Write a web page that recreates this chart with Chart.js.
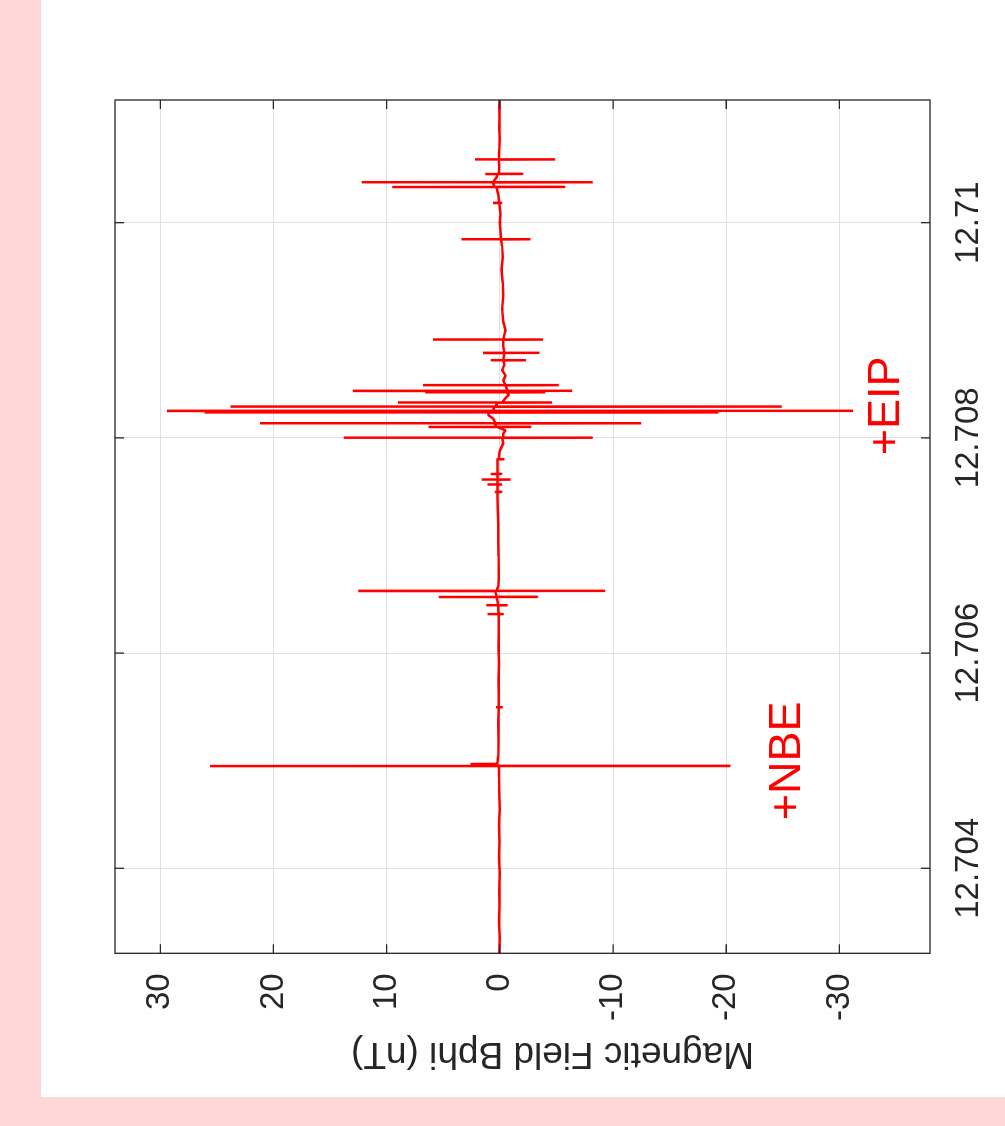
<!DOCTYPE html>
<html>
<head>
<meta charset="utf-8">
<script src="https://cdn.jsdelivr.net/npm/chart.js@4.4.1/dist/chart.umd.min.js"></script>
<style>
    html, body { margin: 0; padding: 0; }
    body { width: 1005px; height: 1126px; background: #ffd7d7; overflow: hidden; position: relative; }
    /* the figure is drawn upright and then turned a quarter turn to the left */
    #frame {
        position: absolute; left: 0; top: 0;
        width: 1097px; height: 964px; background: #fff;
        transform-origin: 0 0;
        transform: translate(41px, 1097px) rotate(-90deg);
    }
</style>
</head>
<body>
<div id="frame"><canvas id="chart-bphi" width="1097" height="964"></canvas></div>
<script>
// time (h) and Bphi (nT); one line of time_h goes with the same line of bphi_nt
time_h = [
    12.70321, 12.70335, 12.70350, 12.70365, 12.70380, 12.70395, 12.70410, 12.70425, 12.70440, 12.70455, 12.70470, 12.70485,
    12.704949, 12.704950, 12.704951, 12.704952, 12.704968, 12.704969, 12.704970, 12.704985,
    12.70505, 12.70520, 12.70535, 12.705495, 12.705496, 12.705497, 12.705498, 12.70560, 12.70575, 12.70590, 12.70605, 12.70620, 12.70634,
    12.706361, 12.706362, 12.706363, 12.706364, 12.706400,
    12.706443, 12.706444, 12.706445, 12.706446, 12.706480,
    12.706520, 12.706521, 12.706522, 12.706523, 12.706550,
    12.706576, 12.706577, 12.706578, 12.706579, 12.706620, 12.706680,
    12.70675, 12.70690, 12.70705, 12.70720, 12.70735, 12.70745,
    12.707496, 12.707497, 12.707498, 12.707499,
    12.707565, 12.707566, 12.707567, 12.707568,
    12.707611, 12.707612, 12.707613, 12.707614,
    12.707663, 12.707664, 12.707665, 12.707666, 12.707720,
    12.707800, 12.707801, 12.707802, 12.707803, 12.707880, 12.707950,
    12.708000, 12.708001, 12.708002, 12.708003, 12.708040, 12.708070,
    12.708100, 12.708101, 12.708102, 12.708103,
    12.708134, 12.708135, 12.708136, 12.708137, 12.708180, 12.708210,
    12.708235, 12.708236, 12.708237, 12.708238,
    12.708249, 12.708250, 12.708251, 12.708252,
    12.708289, 12.708290, 12.708291, 12.708292,
    12.708327, 12.708328, 12.708329, 12.708330, 12.708370, 12.708400,
    12.708422, 12.708423, 12.708424, 12.708425,
    12.708435, 12.708436, 12.708437, 12.708438, 12.708460,
    12.708488, 12.708489, 12.708490, 12.708491, 12.708530, 12.708580, 12.708630, 12.708680,
    12.708720, 12.708721, 12.708722, 12.708723,
    12.708788, 12.708789, 12.708790, 12.708791, 12.708850,
    12.708912, 12.708913, 12.708914, 12.708915, 12.708960, 12.709000,
    12.70908, 12.70920, 12.70932, 12.70944, 12.70956, 12.70968, 12.70978,
    12.709844, 12.709845, 12.709846, 12.709847, 12.709920, 12.710000, 12.710080,
    12.710182, 12.710183, 12.710184, 12.710185, 12.710260,
    12.710330, 12.710331, 12.710332, 12.710333,
    12.710374, 12.710375, 12.710376, 12.710377, 12.710420,
    12.710451, 12.710452, 12.710453, 12.710454, 12.710520,
    12.710586, 12.710587, 12.710588, 12.710589,
    12.71068, 12.71078, 12.71088, 12.71098, 12.71108, 12.71114
]

bphi_nt = [
    0.05, 0.02, 0.07, 0.03, 0.06, 0.01, 0.08, 0.04, 0.07, 0.02, 0.06, 0.08,
    0.10, 25.6, -20.3, 0.15, 0.20, 2.6, 0.30, 0.20,
    0.15, 0.12, 0.14, 0.10, 0.35, -0.25, 0.10, 0.10, 0.12, 0.08, 0.11, 0.09, 0.10,
    0.10, 1.1, -0.35, 0.10, 0.15,
    0.15, 1.2, -0.7, 0.15, 0.20,
    0.30, 5.4, -3.3, 0.30, 0.35,
    0.40, 12.5, -9.3, 0.30, 0.15, 0.10,
    0.10, 0.12, 0.15, 0.14, 0.18, 0.20,
    0.20, 0.45, -0.15, 0.20,
    0.20, 1.1, -0.2, 0.20,
    0.20, 1.6, -0.95, 0.20,
    0.20, 0.8, -0.15, 0.20, 0.20,
    0.20, 0.3, -0.4, 0.10, 0.00, -0.30,
    -0.2, 13.8, -8.2, -0.3, -0.3, -0.5,
    0.2, 6.3, -2.7, 0.3,
    0.5, 21.2, -12.5, 0.4, 0.6, 1.0,
    1.0, 26.1, -19.3, 0.8,
    0.8, 29.4, -31.2, 0.6,
    0.5, 23.8, -24.9, 0.4,
    0.2, 9.0, -4.6, -0.2, -0.5, -0.8,
    -0.6, 6.6, -4.0, -0.6,
    -0.6, 13.0, -6.4, -0.7, -0.6,
    -0.5, 6.8, -5.2, -0.5, -0.3, -0.5, -0.2, -0.4,
    -0.3, 0.8, -2.3, -0.3,
    -0.4, 1.5, -3.5, -0.4, -0.3,
    -0.3, 5.9, -3.8, -0.3, -0.4, -0.5,
    -0.30, -0.20, -0.30, -0.25, -0.15, -0.25, -0.20,
    -0.1, 3.4, -2.7, -0.1, -0.05, 0.0, -0.05,
    0.05, 0.6, -0.2, 0.05, 0.15,
    0.3, 9.5, -5.7, 0.5,
    0.6, 12.2, -8.2, 0.6, 0.3,
    0.2, 1.3, -2.0, 0.1, 0.05,
    0.1, 2.2, -4.9, 0.1,
    0.05, 0.02, 0.06, 0.03, 0.05, 0.04
]

x_limits = [12.70321, 12.71114]
y_limits = [-38, 34]
x_ticks = [12.704, 12.706, 12.708, 12.71]
x_tick_labels = ['12.704', '12.706', '12.708', '12.71']
y_ticks = [-30, -20, -10, 0, 10, 20, 30]
y_tick_labels = ['-30', '-20', '-10', '0', '10', '20', '30']
y_title = 'Magnetic Field Bphi (nT)'

// text marks, in data units: [label, time, Bphi at baseline]
marks = [
    ['+NBE', 12.704446, -26.5],
    ['+EIP', 12.707838, -35.3]
]

line_color = 'rgb(255, 0, 0)'
axis_color = '#262626'
grid_color = '#dfdfdf'
font_family = '"Liberation Sans", Arial, Helvetica, sans-serif'

const matlab_frame = {
    id: 'matlab_frame',
    afterDatasetsDraw(chart) {
        const ctx = chart.ctx
        const a = chart.chartArea
        const xs = chart.scales.x
        const ys = chart.scales.y
        const tick = 9

        ctx.save()
        ctx.strokeStyle = axis_color
        ctx.lineWidth = 1.3
        ctx.beginPath()
        x_ticks.forEach(v => {
            const p = xs.getPixelForValue(v)
            ctx.moveTo(p, a.bottom); ctx.lineTo(p, a.bottom - tick)
            ctx.moveTo(p, a.top); ctx.lineTo(p, a.top + tick)
        })
        y_ticks.forEach(v => {
            const p = ys.getPixelForValue(v)
            ctx.moveTo(a.left, p); ctx.lineTo(a.left + tick, p)
            ctx.moveTo(a.right, p); ctx.lineTo(a.right - tick, p)
        })
        ctx.stroke()
        ctx.strokeRect(a.left, a.top, a.right - a.left, a.bottom - a.top)

        // axis title
        ctx.fillStyle = axis_color
        ctx.font = '37px ' + font_family
        ctx.textAlign = 'center'
        ctx.textBaseline = 'alphabetic'
        ctx.translate(54, 511.5)
        ctx.rotate(-Math.PI / 2)
        ctx.fillText(y_title, 0, 0)
        ctx.restore()

        // +NBE / +EIP
        ctx.save()
        ctx.fillStyle = line_color
        ctx.font = '45px ' + font_family
        ctx.textAlign = 'left'
        ctx.textBaseline = 'alphabetic'
        marks.forEach(m => {
            ctx.fillText(m[0], xs.getPixelForValue(m[1]), ys.getPixelForValue(m[2]))
        })
        ctx.restore()
    }
}

const points = time_h.map((t, i) => ({ x: t, y: bphi_nt[i] }))

bphi_chart = new Chart(
    document.getElementById('chart-bphi').getContext('2d'), {
        type: 'scatter',
        data: {
            datasets: [{
                data: points,
                showLine: true,
                borderColor: line_color,
                borderWidth: 2.5,
                borderJoinStyle: 'bevel',
                pointRadius: 0,
                tension: 0
            }]
        },
        options: {
            responsive: false,
            animation: false,
            layout: {
                padding: { top: 74, right: 100, left: 0, bottom: 0 }
            },
            plugins: {
                legend: { display: false },
                tooltip: { enabled: false }
            },
            scales: {
                x: {
                    type: 'linear',
                    position: 'bottom',
                    min: x_limits[0],
                    max: x_limits[1],
                    afterFit: s => { s.height = 75 },
                    afterBuildTicks: s => { s.ticks = x_ticks.map(v => ({ value: v })) },
                    grid: { color: grid_color, lineWidth: 1, drawTicks: false },
                    border: { display: false },
                    ticks: {
                        autoSkip: false,
                        maxRotation: 0,
                        padding: 19,
                        color: axis_color,
                        font: { family: font_family, size: 33 },
                        callback: (v, i) => x_tick_labels[i]
                    }
                },
                y: {
                    type: 'linear',
                    position: 'left',
                    min: y_limits[0],
                    max: y_limits[1],
                    afterFit: s => { s.width = 143.7 },
                    afterBuildTicks: s => { s.ticks = y_ticks.map(v => ({ value: v })) },
                    grid: { color: grid_color, lineWidth: 1, drawTicks: false },
                    border: { display: false },
                    ticks: {
                        padding: 20,
                        color: axis_color,
                        font: { family: font_family, size: 33 },
                        callback: (v, i) => y_tick_labels[i]
                    }
                }
            }
        },
        plugins: [matlab_frame]
    })
</script>
</body>
</html>
